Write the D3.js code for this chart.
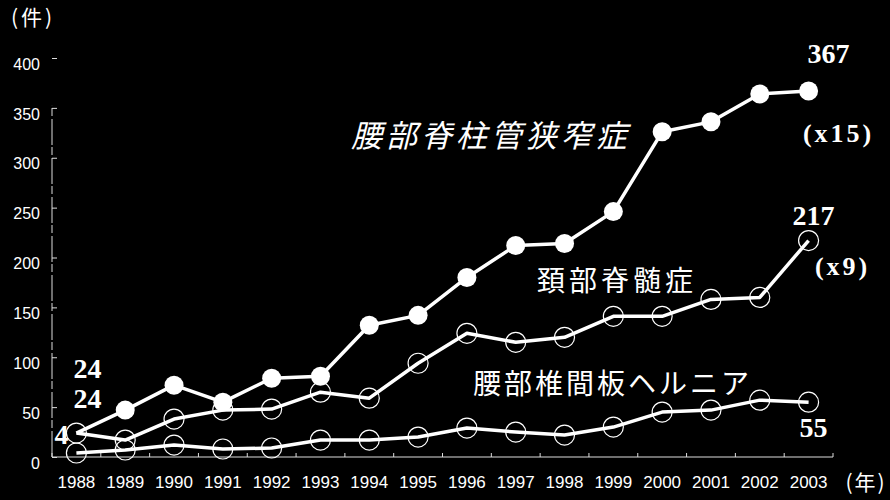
<!DOCTYPE html>
<html>
<head>
<meta charset="utf-8">
<script src="https://cdn.jsdelivr.net/npm/d3@7"></script>
<style>
  html, body { margin: 0; padding: 0; background: #000; }
  svg { display: block; }
</style>
</head>
<body>
<div id="chart"></div>
<script>
var years = ["1988", "1989", "1990", "1991", "1992", "1993", "1994", "1995",
  "1996", "1997", "1998", "1999", "2000", "2001", "2002", "2003"];

// 腰部脊柱管狭窄症 (x15)
var stenosis = [24, 47, 72, 55, 79, 81, 132, 142, 180, 212, 214, 246, 326, 336, 364, 367];
// 頚部脊髄症 (x9)
var cervical = [24, 17, 38, 47, 48, 65, 59, 94, 124, 115, 120, 141, 141, 158, 160, 217];
// 腰部椎間板ヘルニア
var hernia = [4, 7, 12, 8, 9, 17, 17, 20, 29, 25, 22, 30, 45, 47, 57, 55];

var yTicks = [0, 50, 100, 150, 200, 250, 300, 350, 400];

var svgWidth = 890;
var svgHeight = 500;

var svg = d3.select("#chart")
  .append("svg")
  .attr("width", svgWidth)
  .attr("height", svgHeight)
  .style("background", "#000");

var sans = "'Liberation Sans', Arial, sans-serif";
var serif = "'Liberation Serif', 'Times New Roman', serif";
var cjk = "'Noto Sans CJK JP', 'Noto Sans CJK SC', sans-serif";

// scales
var x = d3.scaleBand()
  .domain(years)
  .range([52, 833])
  .paddingInner(0)
  .paddingOuter(0);

var y = d3.scaleLinear()
  .domain([0, 400])
  .range([457, 58]);

var cx = d => x(d) + x.bandwidth() / 2;

// x axis: ticks at band edges pointing up
var xAxis = svg.append("g")
  .attr("transform", "translate(0,457)");

xAxis.append("line")
  .attr("x1", x.range()[0])
  .attr("x2", x.range()[1])
  .attr("y1", 0)
  .attr("y2", 0)
  .attr("stroke", "#ddd")
  .attr("stroke-width", 1);

xAxis.selectAll(".xt")
  .data(years.concat(["end"]))
  .enter()
  .append("line")
  .attr("x1", (d, i) => x.range()[0] + i * x.bandwidth())
  .attr("x2", (d, i) => x.range()[0] + i * x.bandwidth())
  .attr("y1", 0)
  .attr("y2", -4)
  .attr("stroke", "#ddd");

xAxis.selectAll(".xl")
  .data(years)
  .enter()
  .append("text")
  .attr("x", d => cx(d))
  .attr("y", 27)
  .attr("text-anchor", "middle")
  .attr("dominant-baseline", "middle")
  .attr("fill", "#fff")
  .attr("font-family", sans)
  .attr("font-size", "17px")
  .text(d => d);

svg.append("text")
  .attr("x", 866)
  .attr("y", 484)
  .attr("text-anchor", "middle")
  .attr("dominant-baseline", "middle")
  .attr("fill", "#fff")
  .attr("font-family", cjk)
  .attr("font-size", "21px")
  .attr("letter-spacing", "2px")
  .text("(年)");

// y axis
var yAxis = svg.append("g")
  .attr("transform", "translate(52,0)")
  .call(d3.axisLeft(y).tickValues(yTicks).tickSize(-5).tickSizeOuter(0).tickPadding(12));

yAxis.select(".domain").remove();
yAxis.selectAll(".tick line").attr("stroke", "#ddd");
yAxis.selectAll(".tick text")
  .attr("fill", "#fff")
  .attr("font-family", sans)
  .attr("font-size", "16px")
  .attr("dy", "0.7em");

yAxis.append("line")
  .attr("x1", 0)
  .attr("x2", 0)
  .attr("y1", y(0))
  .attr("y2", y(352))
  .attr("stroke", "#ddd")
  .attr("stroke-width", 1)
  .attr("stroke-dasharray", "26,3,8,2");

svg.append("text")
  .attr("x", 33)
  .attr("y", 19)
  .attr("text-anchor", "middle")
  .attr("dominant-baseline", "middle")
  .attr("fill", "#fff")
  .attr("font-family", cjk)
  .attr("font-size", "21px")
  .attr("letter-spacing", "3px")
  .text("(件)");

// lines
var line = d3.line()
  .x((d, i) => cx(years[i]))
  .y(d => y(d));

[hernia, cervical, stenosis].forEach(function(series) {
  svg.append("path")
    .datum(series)
    .attr("d", line)
    .attr("fill", "none")
    .attr("stroke", "#fff")
    .attr("stroke-width", 3.5)
    .attr("stroke-linejoin", "round");
});

// open markers
[hernia, cervical].forEach(function(series) {
  svg.append("g").selectAll("circle")
    .data(series)
    .enter()
    .append("circle")
    .attr("cx", (d, i) => cx(years[i]))
    .attr("cy", d => y(d))
    .attr("r", 10)
    .attr("fill", "none")
    .attr("stroke", "#fff")
    .attr("stroke-width", 1.2);
});

// filled markers (first point shares the open circle)
svg.append("g").selectAll("circle")
  .data(stenosis)
  .enter()
  .filter((d, i) => i > 0)
  .append("circle")
  .attr("cx", (d, i) => cx(years[i + 1]))
  .attr("cy", d => y(d))
  .attr("r", 9.5)
  .attr("fill", "#fff");

// series names
svg.append("text")
  .attr("transform", "translate(353,139) skewX(-14)")
  .attr("dominant-baseline", "middle")
  .attr("fill", "#fff")
  .attr("font-family", cjk)
  .attr("font-size", "31px")
  .attr("letter-spacing", "4px")
  .text("腰部脊柱管狭窄症");

svg.append("text")
  .attr("x", 537)
  .attr("y", 283)
  .attr("dominant-baseline", "middle")
  .attr("fill", "#fff")
  .attr("font-family", cjk)
  .attr("font-size", "28px")
  .attr("letter-spacing", "4px")
  .text("頚部脊髄症");

svg.append("text")
  .attr("x", 473)
  .attr("y", 386)
  .attr("dominant-baseline", "middle")
  .attr("fill", "#fff")
  .attr("font-family", cjk)
  .attr("font-size", "28px")
  .attr("letter-spacing", "3px")
  .text("腰部椎間板ヘルニア");

// value labels
var first = cx(years[0]);
var last = cx(years[years.length - 1]);

function valueLabel(tx, ty, txt, size, spacing) {
  svg.append("text")
    .attr("x", tx)
    .attr("y", ty)
    .attr("text-anchor", "middle")
    .attr("dominant-baseline", "middle")
    .attr("fill", "#fff")
    .attr("font-family", serif)
    .attr("font-weight", "bold")
    .attr("font-size", size || "28px")
    .attr("letter-spacing", spacing || "0px")
    .text(txt);
}

valueLabel(first + 11, y(stenosis[0]) - 61, stenosis[0]);
valueLabel(first + 11, y(cervical[0]) - 31, cervical[0]);
valueLabel(first - 15, y(hernia[0]) - 15, hernia[0]);
valueLabel(last + 20, y(stenosis[15]) - 34, stenosis[15]);
valueLabel(last + 5, y(cervical[15]) - 22, cervical[15]);
valueLabel(last + 5, y(hernia[15]) + 28, hernia[15]);
valueLabel(last + 30, y(stenosis[15]) + 45, "(x15)", "26px", "3px");
valueLabel(last + 34, y(cervical[15]) + 28, "(x9)", "26px", "3px");
</script>
</body>
</html>
